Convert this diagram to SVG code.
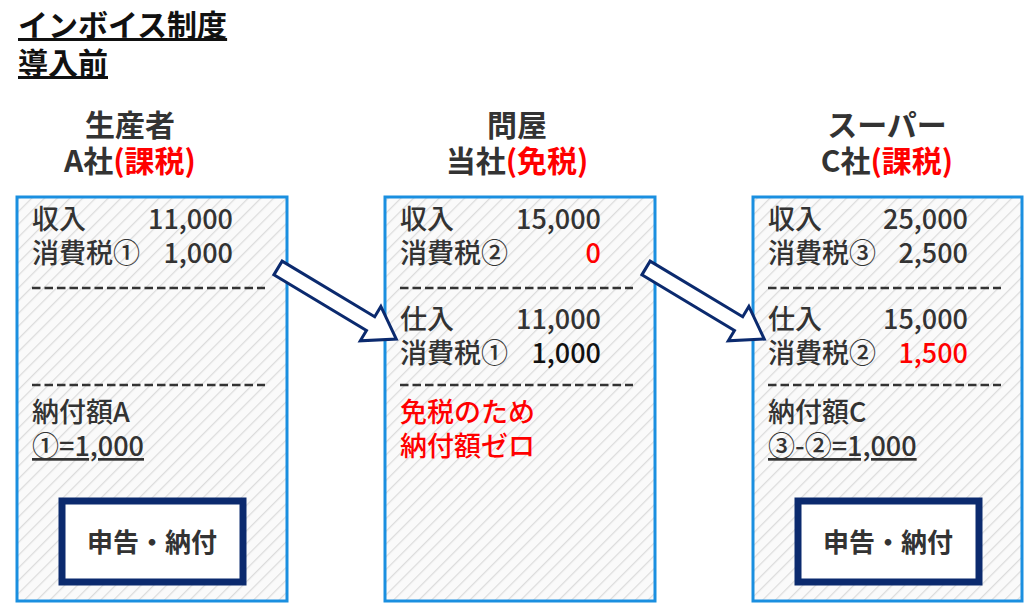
<svg xmlns="http://www.w3.org/2000/svg" width="1024" height="603" viewBox="0 0 1024 603">
<defs>
<pattern id="h" width="9" height="9" patternUnits="userSpaceOnUse" patternTransform="rotate(45)">
<rect width="9" height="9" fill="#fafafa"/>
<line x1="0" y1="0" x2="0" y2="9" stroke="#dcdcdc" stroke-width="2.5"/>
</pattern>
</defs>
<style>
text{font-family:"Noto Sans CJK JP","Noto Sans",sans-serif;fill:#333;}
.t{font-size:30px;font-weight:bold;fill:#111;text-decoration:underline;}
.hd{font-size:30px;font-weight:bold;text-anchor:middle;}
.r{fill:#ff0000;}
.b{font-size:27px;font-weight:500;}
.n{text-anchor:end;}
.box{fill:url(#h);stroke:#1a8fe0;stroke-width:3;}
.dash{stroke:#333;stroke-width:2.5;stroke-dasharray:8.5,4;}
.in{fill:#fff;stroke:#0b2a6e;stroke-width:7;}
.arr{fill:#fff;stroke:#0b2a6e;stroke-width:3;stroke-linejoin:miter;}
.btn{font-size:26px;font-weight:bold;text-anchor:middle;}
</style>
<text class="t" x="18" y="36">インボイス制度</text>
<text class="t" x="18" y="74">導入前</text>

<g id="nodeA">
<text class="hd" x="130" y="136">生産者</text>
<text class="hd" x="130" y="172">A社<tspan class="r">(課税)</tspan></text>
<rect class="box" x="17" y="197" width="270" height="404"/>
<text class="b" x="32" y="229">収入</text><text class="b n" x="233" y="229">11,000</text>
<text class="b" x="32" y="263">消費税①</text><text class="b n" x="233" y="263">1,000</text>
<line class="dash" x1="32" y1="288" x2="265" y2="288"/>
<line class="dash" x1="32" y1="385" x2="265" y2="385"/>
<text class="b" x="32" y="422">納付額A</text>
<text class="b" x="32" y="456" text-decoration="underline">①=1,000</text>
<rect class="in" x="62" y="501" width="181" height="81"/>
<text class="btn" x="152" y="552">申告・納付</text>
</g>

<g id="nodeB">
<text class="hd" x="517" y="136">問屋</text>
<text class="hd" x="517" y="172">当社<tspan class="r">(免税)</tspan></text>
<rect class="box" x="385" y="197" width="270" height="404"/>
<text class="b" x="400" y="229">収入</text><text class="b n" x="601" y="229">15,000</text>
<text class="b" x="400" y="263">消費税②</text><text class="b n r" x="601" y="263" font-weight="bold">0</text>
<line class="dash" x1="400" y1="288" x2="633" y2="288"/>
<text class="b" x="400" y="329">仕入</text><text class="b n" x="601" y="329">11,000</text>
<text class="b" x="400" y="363">消費税①</text><text class="b n" x="601" y="363" font-weight="bold" style="fill:#111">1,000</text>
<line class="dash" x1="400" y1="385" x2="633" y2="385"/>
<text class="b r" x="400" y="422" font-weight="bold">免税のため</text>
<text class="b r" x="400" y="456" font-weight="bold">納付額ゼロ</text>
</g>

<g id="nodeC">
<text class="hd" x="887" y="136">スーパー</text>
<text class="hd" x="887" y="172">C社<tspan class="r">(課税)</tspan></text>
<rect class="box" x="753" y="197" width="269" height="404"/>
<text class="b" x="768" y="229">収入</text><text class="b n" x="968" y="229">25,000</text>
<text class="b" x="768" y="263">消費税③</text><text class="b n" x="968" y="263">2,500</text>
<line class="dash" x1="768" y1="288" x2="1001" y2="288"/>
<text class="b" x="768" y="329">仕入</text><text class="b n" x="968" y="329">15,000</text>
<text class="b" x="768" y="363">消費税②</text><text class="b n r" x="968" y="363" font-weight="bold">1,500</text>
<line class="dash" x1="768" y1="385" x2="1001" y2="385"/>
<text class="b" x="768" y="422">納付額C</text>
<text class="b" x="768" y="456" text-decoration="underline">③-②=1,000</text>
<rect class="in" x="798" y="501" width="181" height="81"/>
<text class="btn" x="888" y="552">申告・納付</text>
</g>

<g id="connectors">
<polygon class="arr" transform="translate(278,268) rotate(31)" points="0,-8 108,-8 108,-20 138,0 108,20 108,8 0,8"/>
<polygon class="arr" transform="translate(646,268) rotate(31)" points="0,-8 108,-8 108,-20 138,0 108,20 108,8 0,8"/>
</g>
</svg>
